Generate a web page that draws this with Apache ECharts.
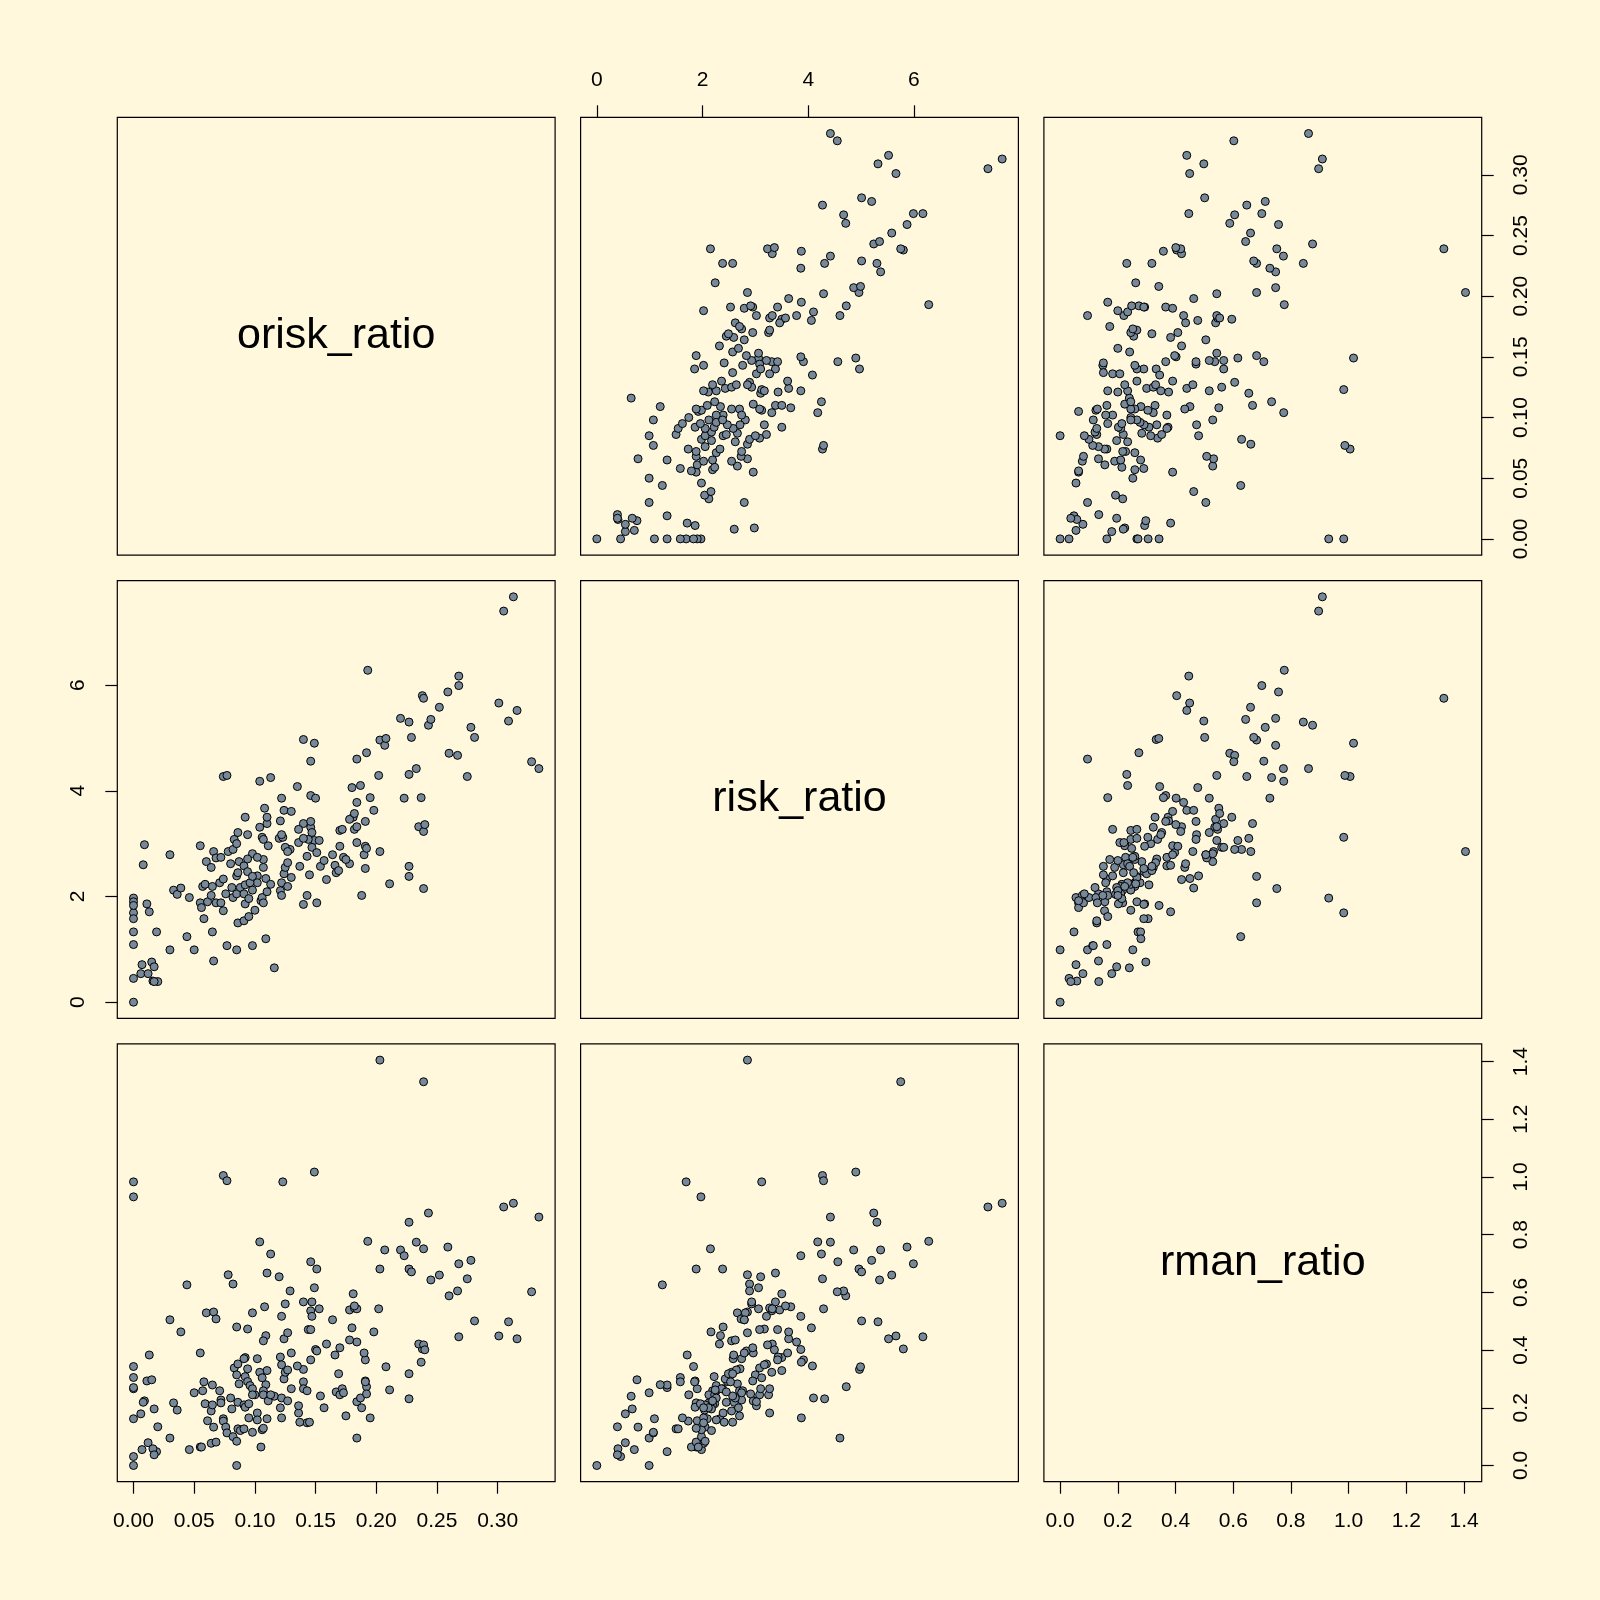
<!DOCTYPE html>
<html>
<head>
<meta charset="utf-8">
<script src="https://cdn.jsdelivr.net/npm/echarts@6/dist/echarts.min.js"></script>
<style>
html,body{margin:0;padding:0;background:#FFF8DC;}
#chart{width:1600px;height:1600px;}
</style>
</head>
<body>
<div id="chart"></div>
<script>
var varNames = ['orisk_ratio', 'risk_ratio', 'rman_ratio'];

var orisk = [
0,0,0,0,0,0,0,0,0,
0.009,0.008,0.011,0.013,0.019,0.007,0.015,0.017,0.006,0.012,0.016,0.020,0.017,
0.030,0.033,0.036,0.039,0.046,0.044,0.030,0.050,0.055,0.055,0.056,
0.057,0.059,0.060,0.058,0.061,0.064,0.064,0.065,0.065,0.066,0.066,0.068,0.068,0.071,0.072,0.072,
0.074,0.077,0.074,0.074,0.076,0.077,0.078,0.080,0.081,0.082,0.082,0.083,0.085,0.085,0.085,0.085,0.086,0.086,0.086,0.087,0.088,
0.104,0.110,0.108,0.098,0.094,0.109,0.107,0.109,0.110,0.104,0.105,0.106,0.106,0.107,0.107,0.107,0.110,0.111,0.102,0.100,0.102,0.102,0.092,0.098,0.091,0.095,0.091,0.091,0.092,0.092,0.094,0.094,0.095,0.096,0.098,0.098,
0.113,0.116,0.120,0.129,0.125,0.122,0.123,0.113,0.121,0.121,0.122,0.122,0.122,0.124,0.124,0.125,0.127,0.127,0.127,0.130,0.130,
0.146,0.149,0.140,0.147,0.146,0.147,0.153,0.144,0.146,0.159,0.140,0.135,0.146,0.150,0.149,0.151,0.140,0.143,0.136,0.136,0.137,0.140,0.143,0.145,0.151,0.154,0.157,
0.193,0.184,0.181,0.178,0.182,0.184,0.182,0.164,0.180,0.184,0.178,0.170,0.166,0.198,0.191,0.191,0.192,0.195,0.167,0.169,0.170,0.172,0.173,0.175,0.184,0.187,0.188,0.190,0.191,0.192,
0.203,0.203,0.207,0.220,0.223,0.227,0.227,0.229,0.233,0.237,0.238,0.239,0.239,0.243,0.245,0.252,0.259,0.260,0.267,0.268,0.268,0.275,0.278,0.281,0.301,0.305,0.309,0.313,0.316,0.328,0.334,0.202,0.208,0.211,0.227,0.227,0.235,0.239,0.240
];

var risk = [
1.97,1.69,1.90,1.83,1.58,1.33,1.09,0.45,0,
2.98,2.60,1.86,1.71,1.33,0.71,0.76,0.67,0.54,0.54,0.40,0.39,0.39,
2.79,2.12,2.04,2.16,1.98,1.24,0.99,0.99,2.96,1.88,1.79,
2.19,2.23,2.66,1.58,1.90,2.55,2.02,2.19,1.33,2.85,0.78,2.73,1.88,2.26,2.74,1.88,
4.27,4.29,2.33,1.73,2.05,1.07,2.85,2.62,2.17,2.89,1.98,3.08,2.39,0.99,2.05,3.00,3.21,2.45,1.50,2.66,2.17,
4.18,3.38,3.67,2.81,3.17,2.34,2.55,1.20,3.50,3.31,1.92,3.12,1.98,2.70,1.88,3.08,2.09,2.96,2.74,1.74,2.39,2.26,3.50,1.07,1.54,1.62,2.58,2.05,1.86,2.22,2.71,2.47,1.96,2.26,2.38,2.12,
4.25,0.65,3.10,2.89,2.93,3.86,3.12,2.23,3.43,2.11,3.17,2.26,2.02,3.63,2.43,2.55,2.64,2.19,2.85,3.61,2.36,
4.56,3.06,3.38,2.93,3.31,3.21,3.06,3.08,3.42,2.32,4.97,4.08,3.91,3.86,4.90,1.88,1.85,2.02,3.27,3.02,2.57,3.10,2.76,2.41,2.83,2.57,2.68,
6.28,4.60,3.50,3.46,3.27,3.32,3.57,2.79,4.06,3.78,2.62,2.95,2.59,3.63,3.42,2.95,4.72,3.87,2.45,2.49,3.25,3.27,2.74,2.70,3.02,4.10,2.02,2.79,2.53,2.91,
4.96,2.85,4.86,5.37,3.86,5.30,2.38,5.01,4.42,3.87,5.80,5.75,2.15,5.24,5.35,5.58,5.87,4.71,4.67,6.17,5.99,4.27,5.20,5.01,5.66,7.40,5.32,7.67,5.52,4.55,4.42,4.29,4.99,2.24,4.31,2.57,3.32,3.23,3.36
];

var rman = [
0.931,0.983,0.266,0.343,0.305,0.270,0.162,0.031,0,
0.224,0.219,0.293,0.383,0.048,0.055,0.297,0.196,0.179,0.079,0.058,0.134,0.037,
0.505,0.217,0.192,0.463,0.055,0.626,0.095,0.252,0.390,0.064,0.064,
0.259,0.214,0.529,0.290,0.155,0.189,0.077,0.210,0.279,0.532,0.133,0.508,0.081,0.259,0.227,0.217,
1.005,0.987,0.162,0.154,0.133,0.113,0.661,0.234,0.196,0.629,0.100,0.338,0.480,0,0.084,0.314,0.352,0.219,0.127,0.283,0.121,
0.775,0.667,0.550,0.529,0.473,0.450,0.432,0.280,0.329,0.323,0.064,0.304,0.124,0.259,0.129,0.245,0.162,0.224,0.370,0.245,0.182,0.158,0.374,0.115,0.127,0.165,0.370,0.210,0.202,0.308,0.335,0.291,0.214,0.277,0.266,0.245,
0.733,0.240,0.654,0.605,0.560,0.517,0.983,0.245,0.376,0.200,0.349,0.234,0.165,0.439,0.300,0.323,0.331,0.224,0.460,0.390,0.266,
0.706,0.616,0.567,0.567,0.536,0.517,0.543,0.471,0.471,0.421,0.333,0.345,0.366,0.402,1.017,0.681,0.290,0.148,0.182,0.207,0.150,0.266,0.259,0.150,0.397,0.241,0.200,
0.777,0.095,0.595,0.539,0.546,0.543,0.553,0.505,0.477,0.428,0.435,0.408,0.383,0.463,0.366,0.293,0.273,0.165,0.255,0.318,0.245,0.266,0.252,0.172,0.221,0.234,0.200,0.390,0.290,0.248,
0.681,1.405,0.747,0.747,0.727,0.843,0.681,0.671,0.774,0.358,0.404,1.330,0.751,0.875,0.643,0.660,0.757,0.588,0.605,0.446,0.699,0.647,0.711,0.501,0.449,0.896,0.498,0.909,0.439,0.602,0.861,0.543,0.342,0.262,0.231,0.318,0.421,0.418,0.401
];

var oriskTicks = [0, 0.05, 0.10, 0.15, 0.20, 0.25, 0.30];
var riskTicks = [0, 2, 4, 6];
var rmanTicks = [0, 0.2, 0.4, 0.6, 0.8, 1.0, 1.2, 1.4];

var vars = [orisk, risk, rman];
var ticks = [oriskTicks, riskTicks, rmanTicks];
var decimals = [2, 0, 1];

// layout
var P0 = 117.3, STEP = 463.3, SIZE = 437.8;
var FONT = '"Liberation Sans", Arial, sans-serif';
var TICK_FONT = 21;

function range(arr) {
  var mn = Math.min.apply(null, arr), mx = Math.max.apply(null, arr);
  var ext = (mx - mn) * 0.04;
  return [mn - ext, mx + ext];
}
var ranges = vars.map(range);

var grids = [], xAxes = [], yAxes = [], series = [], graphics = [];
var g = 0;
for (var i = 0; i < 3; i++) {
  for (var j = 0; j < 3; j++) {
    grids.push({
      left: P0 + j * STEP, top: P0 + i * STEP, width: SIZE, height: SIZE,
      show: true, borderColor: '#000', borderWidth: 1.2, backgroundColor: 'transparent'
    });
    var showBottom = (i === 2 && (j === 0 || j === 2));
    var showTop = (i === 0 && j === 1);
    var showX = showBottom || showTop;
    var showRight = (j === 2 && (i === 0 || i === 2));
    var showLeft = (j === 0 && i === 1);
    var showY = showRight || showLeft;
    (function (vx, vy) {
      xAxes.push({
        type: 'value', gridIndex: g, min: ranges[vx][0], max: ranges[vx][1],
        position: showTop ? 'top' : 'bottom',
        axisLine: { show: false, onZero: false },
        splitLine: { show: false },
        axisTick: { show: showX, inside: false, length: 12, lineStyle: { color: '#000', width: 1.2 }, customValues: ticks[vx] },
        axisLabel: {
          show: showX, customValues: ticks[vx], margin: showTop ? 27 : 29,
          color: '#000', fontSize: TICK_FONT, fontFamily: FONT,
          formatter: function (v) { return Number(v).toFixed(decimals[vx]); }
        }
      });
      yAxes.push({
        type: 'value', gridIndex: g, min: ranges[vy][0], max: ranges[vy][1],
        position: showRight ? 'right' : 'left',
        axisLine: { show: false, onZero: false },
        splitLine: { show: false },
        axisTick: { show: showY, inside: false, length: 12, lineStyle: { color: '#000', width: 1.2 }, customValues: ticks[vy] },
        axisLabel: {
          show: showY, customValues: ticks[vy], margin: 29, rotate: 90,
          color: '#000', fontSize: TICK_FONT, fontFamily: FONT,
          formatter: function (v) { return Number(v).toFixed(decimals[vy]); }
        }
      });
    })(j, i);
    if (i === j) {
      graphics.push({
        type: 'text', x: P0 + j * STEP + SIZE / 2, y: P0 + i * STEP + SIZE / 2,
        style: { text: varNames[i], fill: '#000', font: '43px ' + FONT, textAlign: 'center', textVerticalAlign: 'middle' }
      });
    } else {
      var data = [];
      for (var k = 0; k < orisk.length; k++) data.push([vars[j][k], vars[i][k]]);
      series.push({
        type: 'scatter', xAxisIndex: g, yAxisIndex: g, data: data,
        symbol: 'circle', symbolSize: 8,
        itemStyle: { color: '#778899', borderColor: '#000', borderWidth: 1, opacity: 1 },
        emphasis: { disabled: true },
        silent: true
      });
    }
    g++;
  }
}

var chart = echarts.init(document.getElementById('chart'), null, { renderer: 'canvas' });
chart.setOption({
  backgroundColor: '#FFF8DC',
  animation: false,
  grid: grids,
  xAxis: xAxes,
  yAxis: yAxes,
  series: series,
  graphic: graphics
});
</script>
</body>
</html>
